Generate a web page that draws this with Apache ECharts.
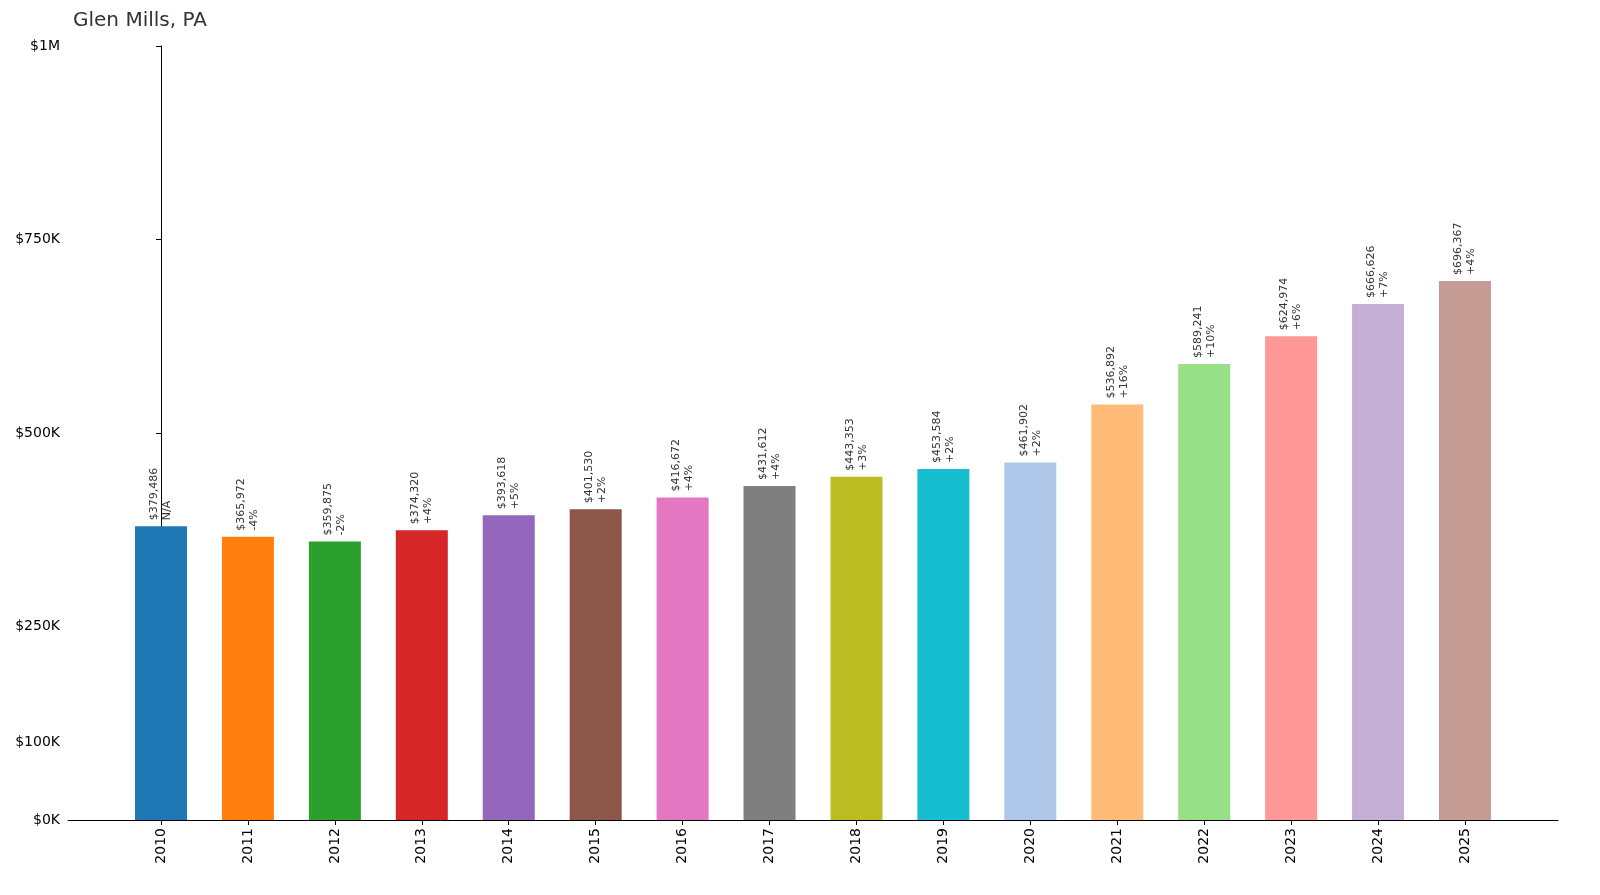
<!DOCTYPE html>
<html><head><meta charset="utf-8">
<script src="https://cdn.jsdelivr.net/npm/echarts@6/dist/echarts.min.js"></script>
<style>html,body{margin:0;padding:0;background:#fff}#c{width:1600px;height:895px}</style>
</head><body><div id="c"></div>
<script>
const years=['2010','2011','2012','2013','2014','2015','2016','2017','2018','2019','2020','2021','2022','2023','2024','2025'];
const values=[379486,365972,359875,374320,393618,401530,416672,431612,443353,453584,461902,536892,589241,624974,666626,696367];
const changes=['N/A','-4%','-2%','+4%','+5%','+2%','+4%','+4%','+3%','+2%','+2%','+16%','+10%','+6%','+7%','+4%'];
const colors=['#1f77b4','#ff7f0e','#2ca02c','#d62728','#9467bd','#8c564b','#e377c2','#7f7f7f','#bcbd22','#17becf','#aec7e8','#ffbb78','#98df8a','#ff9896','#c5b0d5','#c49c94'];
const yTicks=[0,100000,250000,500000,750000,1000000];
const yTickLabels=['$0K','$100K','$250K','$500K','$750K','$1M'];
const idx=years.map((y,i)=>i);
const ch=echarts.init(document.getElementById('c'));
ch.setOption({
 animation:false,
 title:{text:'Glen Mills, PA',left:68,top:6,textStyle:{fontSize:20,fontWeight:'normal',color:'#333',fontFamily:'DejaVu Sans'}},
 grid:{left:68,right:42,top:46,bottom:75},
 xAxis:{type:'value',min:-1.07,max:16.07,splitLine:{show:false},
  axisLine:{lineStyle:{color:'#000'}},
  axisTick:{show:true,customValues:idx,length:5,lineStyle:{color:'#000'}},
  axisLabel:{customValues:idx,rotate:90,fontSize:14,color:'#000',fontFamily:'DejaVu Sans',formatter:v=>years[Math.round(v)]}},
 yAxis:{type:'value',min:0,max:1000000,splitLine:{show:false},
  axisLine:{show:true,lineStyle:{color:'#000'}},
  axisTick:{show:true,customValues:yTicks,length:5,lineStyle:{color:'#000'}},
  axisLabel:{customValues:yTicks,fontSize:14,color:'#000',fontFamily:'DejaVu Sans',formatter:v=>yTickLabels[yTicks.indexOf(v)]}},
 series:[{type:'bar',barWidth:52,
  data:values.map((v,i)=>({value:[i,v],itemStyle:{color:colors[i]}})),
  label:{show:true,position:'top',rotate:90,align:'left',verticalAlign:'middle',distance:6,fontSize:11,lineHeight:13,color:'#333',fontFamily:'DejaVu Sans',
   formatter:p=>'$'+values[p.dataIndex].toLocaleString('en-US')+'\n'+changes[p.dataIndex]}}]
});
</script></body></html>
